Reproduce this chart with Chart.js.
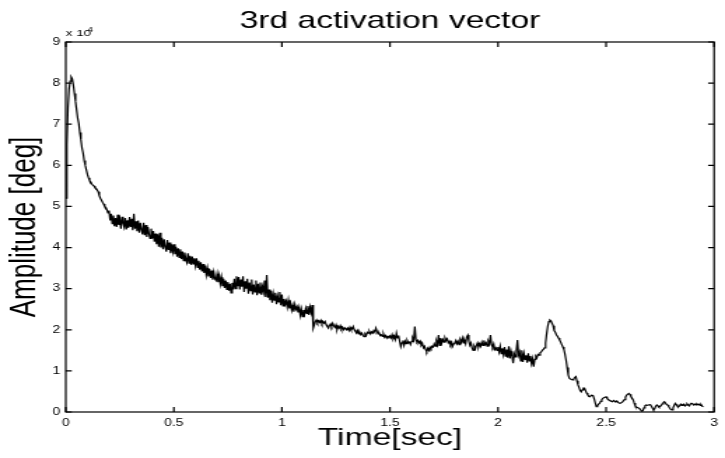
<!DOCTYPE html>
<html>
<head>
<meta charset="utf-8">
<script src="https://cdn.jsdelivr.net/npm/chart.js@4/dist/chart.umd.min.js"></script>
<style>
  html, body { margin: 0; padding: 0; background: #fff; overflow: hidden; }
  /* the figure is laid out narrow and stretched sideways, like the exported plot */
  #wrap { width: 518px; height: 458px; transform: scale(1.3996, 1); transform-origin: 0 0; }
</style>
</head>
<body>
<div id="wrap"><canvas id="activationChart" width="518" height="458"></canvas></div>
<script>
// Tick positions and labels
const xTickValues = [0, 0.5, 1, 1.5, 2, 2.5, 3];
const xTickLabels = ['0', '0.5', '1', '1.5', '2', '2.5', '3'];
const yTickValues = [0, 10000, 20000, 30000, 40000, 50000, 60000, 70000, 80000, 90000];
const yTickLabels = ['0', '1', '2', '3', '4', '5', '6', '7', '8', '9'];

// Sampling interval of the activation trace [sec]
const sampleStep = 0.005;
// Amplitude samples in units of 10^4 deg, one row per 0.1 sec
const amplitude = [
  5.2, 6.5, 7.4, 7.85, 8.05, 8.15, 8.1, 7.95, 7.75, 7.55, 7.35, 7.15, 7.02, 6.8, 6.62, 6.42, 6.3, 6.12, 6.0, 5.89,
  5.78, 5.7, 5.63, 5.6, 5.55, 5.52, 5.5, 5.46, 5.44, 5.4, 5.36, 5.26, 5.2, 5.15, 5.1, 5.06, 5.0, 4.98, 4.92, 4.84,
  4.9, 4.66, 4.82, 4.58, 4.78, 4.52, 4.72, 4.5, 4.8, 4.55, 4.68, 4.46, 4.75, 4.6, 4.5, 4.72, 4.44, 4.66, 4.48, 4.74,
  4.5, 4.7, 4.42, 4.82, 4.46, 4.64, 4.4, 4.66, 4.36, 4.6, 4.44, 4.32, 4.6, 4.3, 4.55, 4.26, 4.5, 4.34, 4.22, 4.46,
  4.22, 4.4, 4.14, 4.34, 4.08, 4.32, 4.02, 4.36, 4.0, 4.24, 3.96, 4.2, 4.02, 3.9, 4.18, 3.94, 4.12, 3.86, 4.08, 3.9,
  4.08, 3.84, 4.02, 3.78, 3.98, 3.76, 3.96, 3.72, 3.9, 3.68, 3.88, 3.72, 3.64, 3.86, 3.62, 3.8, 3.58, 3.78, 3.6, 3.74,
  3.56, 3.74, 3.52, 3.68, 3.46, 3.64, 3.42, 3.6, 3.38, 3.56, 3.34, 3.5, 3.3, 3.48, 3.26, 3.44, 3.22, 3.4, 3.24, 3.2,
  3.36, 3.16, 3.32, 3.12, 3.28, 3.06, 3.24, 3.02, 3.2, 2.98, 3.16, 2.95, 3.12, 2.9, 3.14, 2.98, 3.24, 3.0, 3.3, 3.06,
  3.28, 2.98, 3.22, 3.05, 3.3, 2.92, 3.18, 3.0, 3.24, 2.88, 3.15, 2.95, 3.22, 2.86, 3.1, 2.92, 3.2, 2.84, 3.12, 2.9,
  3.15, 2.85, 3.05, 2.92, 3.2, 2.8, 3.33, 2.78, 2.98, 2.72, 2.95, 2.66, 2.88, 2.72, 2.9, 2.62, 2.82, 2.68, 2.92, 2.6,
  2.86, 2.58, 2.75, 2.62, 2.7, 2.55, 2.72, 2.52, 2.64, 2.48, 2.6, 2.44, 2.62, 2.5, 2.56, 2.42, 2.54, 2.35, 2.5, 2.32,
  2.48, 2.38, 2.52, 2.4, 2.58, 2.36, 2.55, 2.42, 2.6, 2.04, 2.12, 2.2, 2.24, 2.17, 2.22, 2.18, 2.23, 2.15, 2.2, 2.16,
  2.2, 2.12, 2.08, 2.04, 2.1, 2.14, 2.08, 2.16, 2.1, 2.06, 2.12, 2.0, 2.08, 2.04, 2.1, 2.02, 2.06, 2.0, 2.05, 2.02,
  2.0, 2.04, 1.98, 2.06, 2.0, 2.02, 2.08, 2.0, 1.96, 1.92, 1.98, 1.9, 1.94, 1.88, 1.92, 1.86, 1.83, 1.9, 1.86, 1.94,
  1.92, 1.96, 1.9, 1.95, 1.92, 1.98, 1.94, 2.04, 1.96, 1.9, 1.92, 1.86, 1.88, 1.84, 1.9, 1.82, 1.86, 1.8, 1.84, 1.82,
  1.85, 1.8, 1.88, 1.78, 1.84, 1.76, 1.92, 1.8, 1.86, 1.72, 1.59, 1.68, 1.74, 1.62, 1.72, 1.66, 1.74, 1.68, 1.7, 1.64,
  1.72, 1.8, 1.74, 2.08, 1.76, 1.7, 1.74, 1.68, 1.72, 1.62, 1.66, 1.56, 1.6, 1.52, 1.47, 1.55, 1.5, 1.58, 1.54, 1.6,
  1.58, 1.66, 1.6, 1.72, 1.64, 1.87, 1.62, 1.8, 1.68, 1.76, 1.7, 1.8, 1.74, 1.78, 1.68, 1.72, 1.64, 1.7, 1.6, 1.66,
  1.68, 1.74, 1.66, 1.72, 1.64, 1.76, 1.7, 1.8, 1.68, 1.74, 1.66, 1.82, 1.87, 1.72, 1.62, 1.68, 1.56, 1.5, 1.6, 1.54,
  1.62, 1.68, 1.58, 1.66, 1.6, 1.7, 1.62, 1.74, 1.64, 1.68, 1.6, 1.72, 1.66, 1.87, 1.64, 1.58, 1.66, 1.52, 1.56, 1.5,
  1.58, 1.46, 1.6, 1.42, 1.55, 1.4, 1.58, 1.36, 1.52, 1.32, 1.6, 1.3, 1.48, 1.36, 1.19, 1.42, 1.34, 1.5, 1.75, 1.38,
  1.46, 1.24, 1.5, 1.22, 1.42, 1.28, 1.38, 1.2, 1.43, 1.24, 1.36, 1.18, 1.3, 1.1, 1.28, 1.36, 1.32, 1.4, 1.38, 1.44,
  1.46, 1.5, 1.52, 1.56, 1.68, 1.9, 2.08, 2.2, 2.24, 2.22, 2.16, 2.1, 1.98, 1.94, 1.88, 1.84, 1.8, 1.75, 1.7, 1.64,
  1.58, 1.52, 1.4, 1.26, 1.08, 0.9, 0.82, 0.8, 0.79, 0.78, 0.8, 0.84, 0.86, 0.76, 0.66, 0.6, 0.52, 0.49, 0.54, 0.58,
  0.58, 0.52, 0.46, 0.42, 0.38, 0.37, 0.4, 0.41, 0.4, 0.32, 0.22, 0.13, 0.15, 0.19, 0.21, 0.26, 0.3, 0.33, 0.35, 0.36,
  0.37, 0.33, 0.3, 0.29, 0.27, 0.26, 0.25, 0.28, 0.26, 0.25, 0.27, 0.24, 0.22, 0.21, 0.21, 0.24, 0.27, 0.3, 0.36, 0.41,
  0.43, 0.45, 0.43, 0.38, 0.34, 0.3, 0.22, 0.15, 0.12, 0.11, 0.1, 0.08, 0.05, 0.02, 0.03, 0.1, 0.15, 0.17, 0.16, 0.17,
  0.17, 0.18, 0.14, 0.09, 0.05, 0.08, 0.14, 0.17, 0.15, 0.12, 0.13, 0.16, 0.2, 0.23, 0.25, 0.22, 0.18, 0.17, 0.13, 0.09,
  0.06, 0.05, 0.1, 0.16, 0.21, 0.18, 0.14, 0.13, 0.15, 0.19, 0.16, 0.18, 0.19, 0.15, 0.17, 0.2, 0.17, 0.15, 0.19, 0.21,
  0.2, 0.17, 0.19, 0.17, 0.2, 0.18, 0.19, 0.16, 0.18, 0.14, 0.13
];
const amplitudeUnit = 10000;

const tracePoints = amplitude.map((v, i) => ({ x: i * sampleStep, y: v * amplitudeUnit }));

const fontFamily = '"Liberation Sans", Arial, Helvetica, sans-serif';

// Box around the axes, inward ticks on all four sides and the x 10^4 multiplier
const axesBox = {
  id: 'axesBox',
  afterDraw(chart) {
    const ctx = chart.ctx;
    const { left, right, top, bottom } = chart.chartArea;
    const xs = chart.scales.x;
    const ys = chart.scales.y;
    ctx.save();
    ctx.strokeStyle = '#000';
    ctx.lineWidth = 1.2;
    ctx.strokeRect(left, top, right - left, bottom - top);
    ctx.beginPath();
    xTickValues.forEach(v => {
      const px = xs.getPixelForValue(v);
      ctx.moveTo(px, bottom);
      ctx.lineTo(px, bottom - 5);
      ctx.moveTo(px, top);
      ctx.lineTo(px, top + 5);
    });
    yTickValues.forEach(v => {
      const py = ys.getPixelForValue(v);
      ctx.moveTo(left, py);
      ctx.lineTo(left + 4.3, py);
      ctx.moveTo(right, py);
      ctx.lineTo(right - 4.3, py);
    });
    ctx.stroke();

    ctx.fillStyle = '#000';
    ctx.textBaseline = 'alphabetic';
    ctx.textAlign = 'left';
    ctx.font = '9.5px ' + fontFamily;
    ctx.fillText('x 10', left, top - 6);
    ctx.font = '7px ' + fontFamily;
    ctx.fillText('4', left + 15.5, top - 10);
    ctx.restore();
  }
};

window.onload = function() {
  const ctx = document.getElementById('activationChart').getContext('2d');
  new Chart(ctx, {
    type: 'line',
    data: {
      datasets: [{
        label: '3rd activation vector',
        data: tracePoints,
        borderColor: '#000',
        borderWidth: 1.2,
        pointRadius: 0,
        tension: 0,
        fill: false
      }]
    },
    options: {
      responsive: false,
      animation: false,
      layout: { padding: { left: 0, right: 4.5, top: 0, bottom: 0 } },
      plugins: {
        legend: { display: false },
        tooltip: { enabled: false },
        title: {
          display: true,
          text: '3rd activation vector',
          fullSize: false,
          color: '#000',
          font: { family: fontFamily, size: 24, weight: 'normal', lineHeight: 1.2 },
          padding: { top: 7.3, bottom: 5.9 }
        }
      },
      scales: {
        x: {
          type: 'linear',
          min: 0,
          max: 3,
          afterBuildTicks: scale => { scale.ticks = xTickValues.map(v => ({ value: v })); },
          afterFit: scale => { scale.height = 46; },
          grid: { display: false, drawTicks: false },
          border: { display: false },
          ticks: {
            color: '#000',
            padding: 5,
            maxRotation: 0,
            autoSkip: false,
            font: { family: fontFamily, size: 10 },
            callback: (v, i) => xTickLabels[i]
          },
          title: {
            display: true,
            text: 'Time[sec]',
            color: '#000',
            font: { family: fontFamily, size: 24, lineHeight: 1.2 },
            padding: { top: 0, bottom: 5.1 }
          }
        },
        y: {
          type: 'linear',
          min: 0,
          max: 90000,
          afterBuildTicks: scale => { scale.ticks = yTickValues.map(v => ({ value: v })); },
          afterFit: scale => { scale.width = 47; },
          grid: { display: false, drawTicks: false },
          border: { display: false },
          ticks: {
            color: '#000',
            padding: 4,
            autoSkip: false,
            font: { family: fontFamily, size: 10 },
            callback: (v, i) => yTickLabels[i]
          },
          title: {
            display: true,
            text: 'Amplitude [deg]',
            color: '#000',
            font: { family: fontFamily, size: 26, lineHeight: 1.2 },
            padding: { top: 2.6, bottom: 0 }
          }
        }
      }
    },
    plugins: [axesBox]
  });
};
</script>
</body>
</html>
